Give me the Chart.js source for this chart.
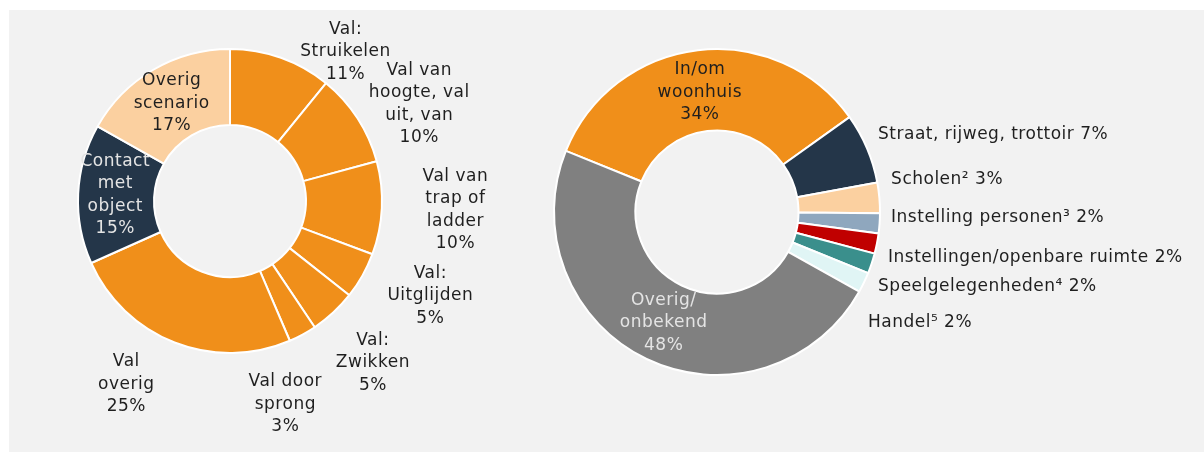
<!DOCTYPE html>
<html>
<head>
<meta charset="utf-8">
<script src="https://cdn.jsdelivr.net/npm/chart.js@4/dist/chart.umd.min.js"></script>
<style>
  html, body { margin: 0; padding: 0; background: #ffffff; width: 1204px; height: 452px; overflow: hidden; }
  #panel { position: absolute; left: 9px; top: 10px; width: 1195px; height: 442px; background: #f2f2f2; }
  .layer { position: absolute; left: 0; top: 0; width: 1204px; height: 452px; }
</style>
</head>
<body>
<div id="panel"></div>
<div class="layer"><canvas id="left"></canvas></div>
<div class="layer"><canvas id="right"></canvas></div>
<script>
// ---- Data: left doughnut (scenario) ----
const leftCategories = [
  ['Val:', 'Struikelen'],
  ['Val van', 'hoogte, val', 'uit, van'],
  ['Val van', 'trap of', 'ladder'],
  ['Val:', 'Uitglijden'],
  ['Val:', 'Zwikken'],
  ['Val door', 'sprong'],
  ['Val', 'overig'],
  ['Contact', 'met', 'object'],
  ['Overig', 'scenario']
];
const leftValues = [11, 10, 10, 5, 5, 3, 25, 15, 17];

// ---- Data: right doughnut (location) ----
const rightCategories = [
  ['In/om', 'woonhuis'],
  ['Straat, rijweg, trottoir'],
  ['Scholen\u00B2'],
  ['Instelling personen\u00B3'],
  ['Instellingen/openbare ruimte'],
  ['Speelgelegenheden\u2074'],
  ['Handel\u2075'],
  ['Overig/', 'onbekend']
];
const rightValues = [34, 7, 3, 2, 2, 2, 2, 48];

// ---- Styling ----
const ORANGE = '#F08F1A', NAVY = '#243649', PEACH = '#FBD0A0';
const leftColors = [ORANGE, ORANGE, ORANGE, ORANGE, ORANGE, ORANGE, ORANGE, NAVY, PEACH];
const rightColors = [ORANGE, NAVY, PEACH, '#8FA7BE', '#C00000', '#3A8F8C', '#E0F5F5', '#808080'];

const DARK = '#1f1f1f', LIGHT = '#e4e4e4';
const FONT = '17px "DejaVu Sans", "Open Sans", sans-serif';
const LETTER_SPACING = '0.5px';
const LINE_H = 22.5;

// label placement, in units of outer radius relative to the doughnut centre
const leftLabelPos = [
  {u: 0.76, v: -0.98, align: 'center', color: DARK, inline: false},
  {u: 1.245, v: -0.636, align: 'center', color: DARK, inline: false},
  {u: 1.483, v: 0.06, align: 'center', color: DARK, inline: false},
  {u: 1.318, v: 0.623, align: 'center', color: DARK, inline: false},
  {u: 0.94, v: 1.066, align: 'center', color: DARK, inline: false},
  {u: 0.364, v: 1.338, align: 'center', color: DARK, inline: false},
  {u: -0.682, v: 1.205, align: 'center', color: DARK, inline: false},
  {u: -0.755, v: -0.04, align: 'center', color: LIGHT, inline: false},
  {u: -0.384, v: -0.642, align: 'center', color: DARK, inline: false}
];
const rightLabelPos = [
  {u: -0.105, v: -0.735, align: 'center', color: DARK, inline: false},
  {u: 0.988, v: -0.475, align: 'left', color: DARK, inline: true},
  {u: 1.068, v: -0.198, align: 'left', color: DARK, inline: true},
  {u: 1.068, v: 0.037, align: 'left', color: DARK, inline: true},
  {u: 1.049, v: 0.278, align: 'left', color: DARK, inline: true},
  {u: 0.988, v: 0.457, align: 'left', color: DARK, inline: true},
  {u: 0.926, v: 0.679, align: 'left', color: DARK, inline: true},
  {u: -0.327, v: 0.679, align: 'center', color: LIGHT, inline: false}
];

const sliceLabels = {
  id: 'sliceLabels',
  afterDatasetsDraw(chart, args, opts) {
    const ctx = chart.ctx;
    const meta = chart.getDatasetMeta(0);
    const values = chart.data.datasets[0].data;
    ctx.save();
    ctx.font = FONT;
    if ('letterSpacing' in ctx) ctx.letterSpacing = LETTER_SPACING;
    ctx.textBaseline = 'middle';
    meta.data.forEach((arc, i) => {
      const p = opts.pos[i];
      const cats = opts.cats[i];
      let lines;
      if (p.inline) {
        lines = [cats.join(' ') + ' ' + values[i] + '%'];
      } else {
        lines = cats.concat([values[i] + '%']);
      }
      const R = arc.outerRadius;
      const x = arc.x + p.u * R;
      const y = arc.y + p.v * R;
      ctx.fillStyle = p.color;
      ctx.textAlign = p.align;
      const top = y - (lines.length - 1) * LINE_H / 2;
      lines.forEach((ln, k) => ctx.fillText(ln, x, top + k * LINE_H));
    });
    ctx.restore();
  }
};

function makeChart(id, cats, values, colors, pos, padding, rotation) {
  return new Chart(document.getElementById(id), {
    type: 'doughnut',
    data: {
      labels: cats.map(c => c.join(' ')),
      datasets: [{
        data: values,
        backgroundColor: colors,
        borderColor: '#ffffff',
        borderWidth: 2,
        hoverOffset: 0
      }]
    },
    options: {
      responsive: true,
      maintainAspectRatio: false,
      animation: false,
      cutout: '50%',
      rotation: rotation,
      layout: { padding: padding },
      plugins: {
        legend: { display: false },
        tooltip: { enabled: false },
        sliceLabels: { cats: cats, pos: pos }
      }
    },
    plugins: [sliceLabels]
  });
}

makeChart('left', leftCategories, leftValues, leftColors, leftLabelPos,
  {left: 77, right: 821, top: 48, bottom: 98}, 0);
makeChart('right', rightCategories, rightValues, rightColors, rightLabelPos,
  {left: 553, right: 323, top: 48, bottom: 76}, -68);
</script>
</body>
</html>
